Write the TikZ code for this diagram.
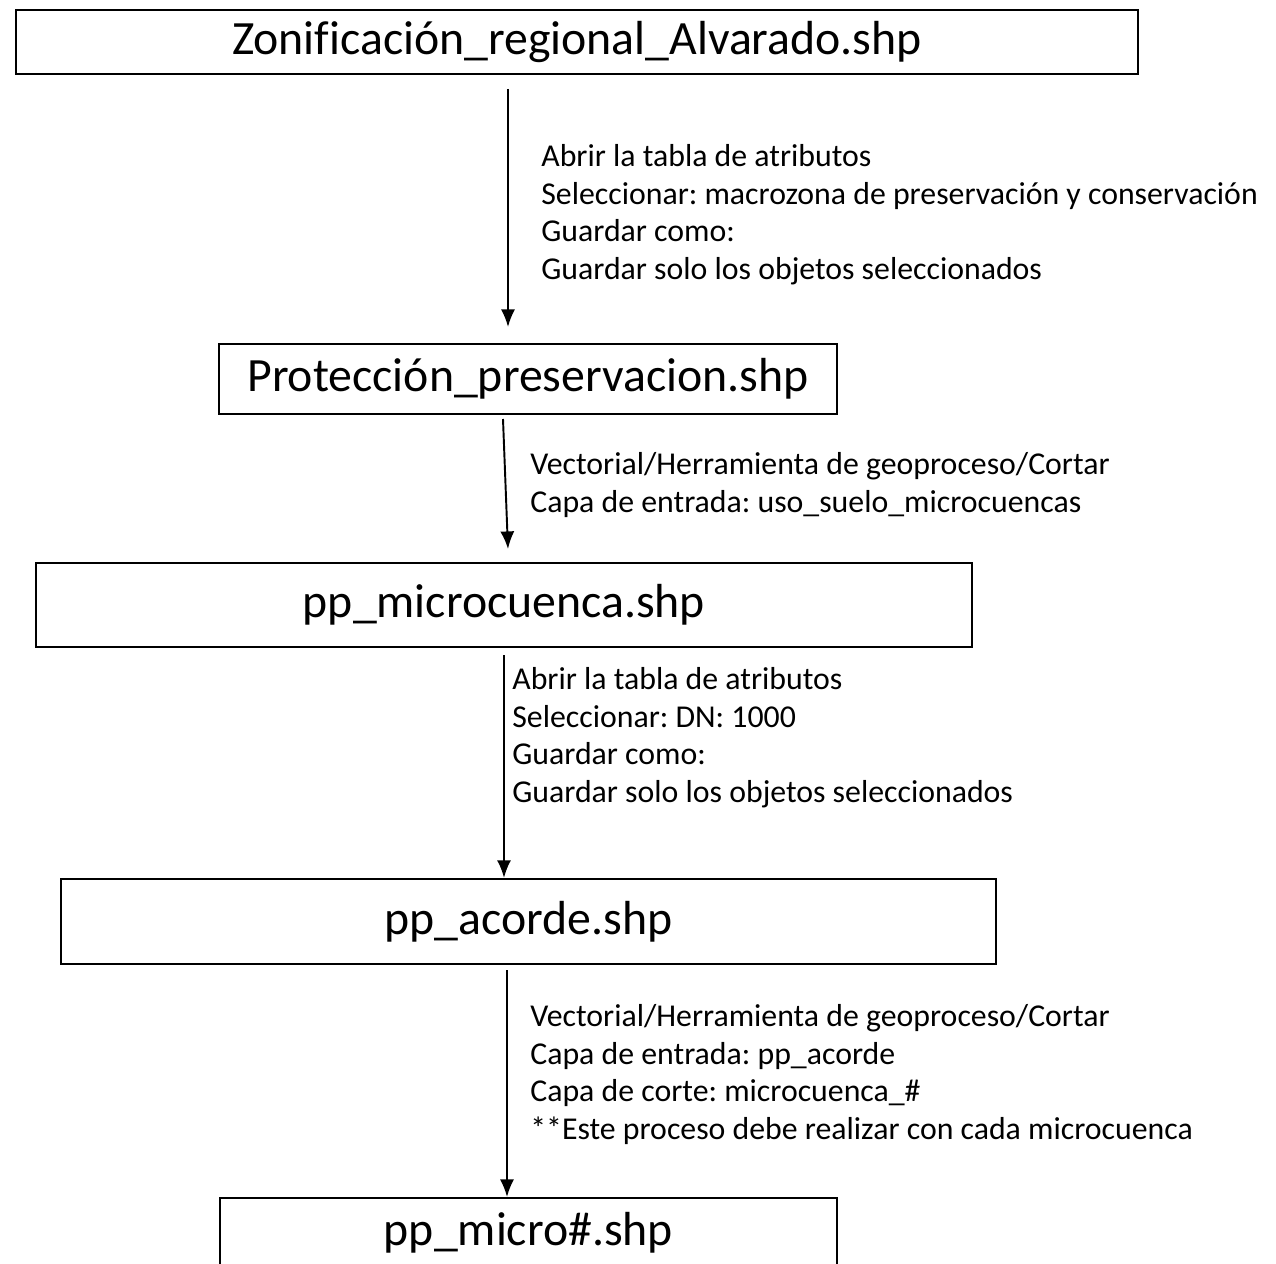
\documentclass[tikz,border=0pt]{standalone}
\usepackage{fontspec}
\setmainfont{Carlito}[Ligatures=NoCommon]
\usetikzlibrary{arrows.meta}

\tikzset{
  shpbox/.style={draw, line width=1.3pt, inner sep=0pt, font=\fontsize{27.2}{32}\selectfont},
  paso/.style={anchor=north west, align=left, inner sep=0pt, font=\fontsize{18.1}{21.5}\selectfont},
  flecha/.style={-{Latex[length=10pt,width=8pt]}, line width=1.1pt},
}

\begin{document}
\frenchspacing
\begin{tikzpicture}[x=0.02cm, y=-0.02cm]
    \useasboundingbox (0,0) rectangle (1276,1264);

    % capas
    \node[shpbox, minimum width=22.44cm, minimum height=1.28cm] (zonif) at (577,42) {Zonificación\_regional\_Alvarado.shp};
    \node[shpbox, minimum width=12.36cm, minimum height=1.4cm] (protec) at (528,379) {Protección\_preservacion.shp};
    \node[shpbox, minimum width=18.72cm, minimum height=1.68cm] (ppmicrocuenca) at (504,605) {pp\_microcuenca.shp};
    \node[shpbox, minimum width=18.7cm, minimum height=1.7cm] (ppacorde) at (528.5,921.5) {pp\_acorde.shp};
    \node[shpbox, minimum width=12.34cm, minimum height=1.4cm, anchor=north] (ppmicro) at (528.5,1197) {pp\_micro\#.shp};

    % flechas
    \coordinate (s1) at (508,89);
    \coordinate (e1) at (508,327);
    \coordinate (s2) at (503,419);
    \coordinate (e2) at (508,549);
    \coordinate (s3) at (504,655);
    \coordinate (s4) at (507,970);

    \draw[flecha] (s1) -- (e1);
    \draw[flecha] (s2) -- (e2);
    \draw[flecha] (s3) -- (s3 |- ppacorde.north);
    \draw[flecha] (s4) -- (s4 |- ppmicro.north);

    % pasos
    \node[paso] (paso1) at (541,144) {Abrir la tabla de atributos\\Seleccionar: macrozona de preservación y conservación\\Guardar como:\\Guardar solo los objetos seleccionados};
    \node[paso] (paso2) at (530,452) {Vectorial/Herramienta de geoproceso/Cortar\\Capa de entrada: uso\_suelo\_microcuencas};
    \node[paso] (paso3) at (512,667) {Abrir la tabla de atributos\\Seleccionar: DN: 1000\\Guardar como:\\Guardar solo los objetos seleccionados};
    \node[paso] (paso4) at (530,1004) {Vectorial/Herramienta de geoproceso/Cortar\\Capa de entrada: pp\_acorde\\Capa de corte: microcuenca\_\#\\**Este proceso debe realizar con cada microcuenca};

\end{tikzpicture}
\end{document}
